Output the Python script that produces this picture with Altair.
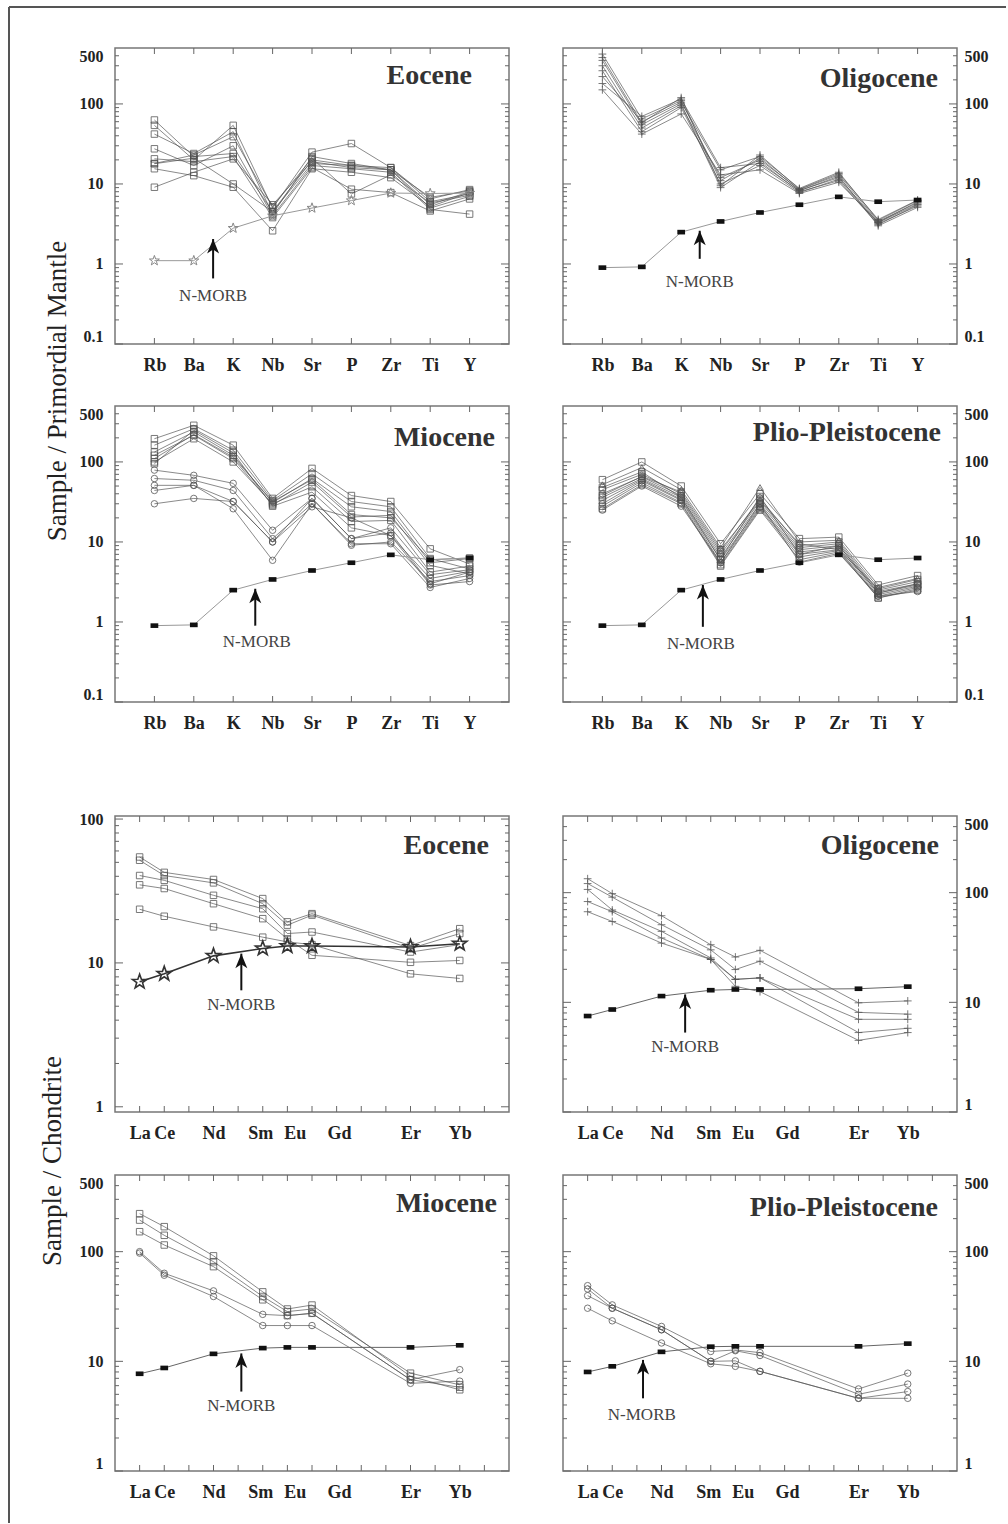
import math
import altair as alt
import pandas as pd

# ---------------- element axes ----------------
SPIDER = ["Rb", "Ba", "K", "Nb", "Sr", "P", "Zr", "Ti", "Y"]
SPIDER_SLOT = [1, 2, 3, 4, 5, 6, 7, 8, 9]
REE = ["La", "Ce", "Nd", "Sm", "Eu", "Gd", "Er", "Yb"]
REE_SLOT = [1, 2, 4, 6, 7, 8, 12, 14]
REE_LABEL_AT = [1, 2, 4, 5.9, 7.3, 9.1, 12, 14]   # where the original prints the names

# ---------------- N-MORB reference patterns ----------------
NMORB_PM = [0.9, 0.92, 2.5, 3.4, 4.4, 5.5, 6.9, 6.0, 6.3]
NMORB_PM_EOCENE = [1.1, 1.1, 2.8, 4.0, 5.0, 6.2, 7.7, 7.6, 7.7]
NMORB_CH_EOCENE = [7.4, 8.4, 11.2, 12.6, 13.1, 13.1, 12.9, 13.6]
NMORB_CH_OLIGOCENE = [7.5, 8.6, 11.4, 12.9, 13.1, 13.1, 13.3, 13.9]
NMORB_CH_MIOCENE = [7.7, 8.7, 11.7, 13.2, 13.4, 13.4, 13.4, 14.0]
NMORB_CH_PLIO = [8.0, 9.0, 12.2, 13.6, 13.7, 13.7, 13.7, 14.5]

# ---------------- primordial-mantle normalised samples ----------------
PM_EOCENE = [
    [63, 22, 24, 4.5, 20, 17, 15, 5.5, 8.0],
    [54, 20, 54, 5.0, 25, 32, 16, 6.0, 7.5],
    [42, 24, 45, 4.2, 22, 18, 15, 5.0, 7.0],
    [27.5, 17, 30, 4.0, 17, 15.5, 14, 4.8, 4.2],
    [20.6, 19, 22, 3.8, 16, 8.6, 7.8, 4.6, 6.5],
    [17.9, 21, 10, 4.5, 18, 17, 16, 6.5, 8.5],
    [15.5, 12.7, 9.1, 2.6, 15.5, 14, 12, 5.2, 7.8],
    [9.1, 14, 20.6, 5.5, 19, 16, 15, 6.8, 8.2],
    [18, 23, 39, 5.2, 21, 7.5, 13, 5.8, 7.2],
]
PM_EOCENE_MK = ["sq"] * 9

PM_OLIGOCENE = [
    [420, 65, 110, 11, 21, 8.3, 12, 3.3, 6.0],
    [350, 55, 100, 9, 19, 8.0, 11, 3.1, 5.5],
    [300, 50, 95, 12, 20, 8.5, 13, 3.4, 5.8],
    [260, 45, 90, 10, 17, 7.8, 11.5, 3.2, 5.3],
    [220, 60, 105, 15, 22, 8.8, 14, 3.5, 6.2],
    [180, 70, 115, 16, 18, 8.2, 12.5, 3.0, 5.1],
    [150, 42, 75, 13, 15, 7.6, 10.5, 3.3, 5.6],
    [380, 58, 120, 9.5, 23, 8.6, 13.5, 3.6, 6.3],
]
PM_OLIGOCENE_MK = ["cr"] * 8

PM_MIOCENE = [
    [195, 287, 162, 35, 83, 38, 32, 8.2, 5.3],
    [162, 260, 140, 33, 71, 32, 27.5, 6.2, 4.6],
    [133, 237, 121, 31, 62, 27.5, 24, 5.5, 6.2],
    [121, 216, 110, 29, 56, 20.5, 21.5, 5.1, 4.0],
    [100, 195, 100, 30, 49, 18, 18.6, 4.2, 5.0],
    [95, 250, 130, 28, 42, 15, 12, 3.5, 4.3],
    [110, 220, 115, 32, 60, 22, 20, 6.0, 6.3],
    [79, 68, 54, 14, 35, 11, 15, 3.9, 4.5],
    [62, 59, 44, 11, 30, 9.1, 10, 3.2, 3.8],
    [51, 51, 32, 10, 27.5, 20, 12, 2.9, 3.2],
    [44, 51, 26, 5.9, 30, 9.5, 9.5, 2.7, 3.5],
    [30, 35, 32, 10, 35, 11, 13, 3.0, 4.2],
]
PM_MIOCENE_MK = ["sq"] * 7 + ["ci"] * 5

PM_PLIO = [
    [60, 100, 50, 9.5, 40, 11, 11.5, 2.9, 3.8],
    [52, 85, 45, 8.5, 48, 10, 10.5, 2.7, 3.5],
    [45, 70, 40, 7.5, 35, 9, 10, 2.5, 3.2],
    [40, 65, 38, 7, 32, 8.5, 9.5, 2.4, 3.0],
    [36, 62, 36, 6.5, 30, 8, 9, 2.3, 2.9],
    [33, 60, 34, 6, 28, 7.5, 8.5, 2.2, 2.8],
    [30, 58, 33, 5.5, 27, 7, 8, 2.1, 2.7],
    [28, 55, 31, 5.2, 26, 6.5, 7.8, 2.0, 2.6],
    [26, 52, 30, 5.0, 25, 6, 7.5, 2.0, 2.5],
    [25, 50, 28, 5.5, 30, 5.6, 7.2, 2.1, 2.4],
    [38, 66, 42, 8, 33, 9.5, 8, 2.6, 3.4],
    [48, 75, 36, 6, 37, 7, 9, 2.3, 3.0],
]
PM_PLIO_MK = ["sq", "tr", "sq", "ci", "sq", "sq", "ci", "sq", "sq", "ci", "sq", "sq"]

# ---------------- chondrite normalised samples ----------------
CH_EOCENE = [
    [54.5, 42.6, 38, 28, 19.3, 22, 13.2, 17.3],
    [51.7, 40.5, 36, 25.8, 18.3, 21.5, 12.6, 16],
    [40.5, 37.5, 29.5, 23.8, 16, 16.4, 11.9, 13.4],
    [34.9, 32.9, 25.8, 20.3, 14.7, 11.3, 10.1, 10.4],
    [23.6, 21.1, 17.8, 15.1, 14.0, 13.4, 8.4, 7.8],
]
CH_EOCENE_MK = ["sq"] * 5

CH_OLIGOCENE = [
    [134, 98, 61.6, 33.5, 25.9, 29.8, 9.9, 10.3],
    [121, 91, 51, 30.1, 19.9, 23.7, 8.1, 7.8],
    [107, 69.5, 44.4, 25.4, 16.2, 16.7, 7.0, 7.0],
    [83, 67, 38.6, 24.6, 16.2, 16.7, 5.3, 5.8],
    [67, 54.6, 34.7, 24.6, 14.0, 12.5, 4.5, 5.3],
]
CH_OLIGOCENE_MK = ["cr"] * 5

CH_MIOCENE = [
    [222, 169, 91.6, 43, 30, 32.6, 7.3, 5.5],
    [194, 141, 81, 39, 28.4, 30, 7.8, 6.1],
    [152, 115, 73, 36.4, 26.1, 27.4, 6.8, 5.8],
    [100, 63.5, 43.9, 26.8, 26.1, 27.4, 6.8, 8.4],
    [97, 61, 39, 21.2, 21.2, 21.2, 6.3, 6.6],
]
CH_MIOCENE_MK = ["sq", "sq", "sq", "ci", "ci"]

CH_PLIO = [
    [49, 32.7, 20.8, 12.3, 12.7, 12.0, 5.6, 7.8],
    [45.7, 30.5, 19.4, 10, 12.5, 11.3, 5.0, 6.2],
    [39.7, 30.5, 19.4, 10, 10.1, 8.1, 4.6, 5.3],
    [30.5, 23.4, 14.7, 9.5, 9.0, 8.1, 4.6, 4.6],
]
CH_PLIO_MK = ["ci"] * 4

# ---------------- styling ----------------
SERIF = "Liberation Serif"
INK = "#222222"
LINE = "#505050"
TICK = "#666666"
W, H = 394, 296


def star_path():
    pts = []
    for k in range(10):
        r = 1.0 if k % 2 == 0 else 0.4
        ang = math.radians(-90 + 36 * k)
        pts.append("%.3f,%.3f" % (r * math.cos(ang), r * math.sin(ang)))
    return "M" + "L".join(pts) + "Z"


STAR = star_path()
SHAPES = {
    "sq": "square",
    "ci": "circle",
    "tr": "triangle-up",
    "cr": "M-1,0L1,0M0,-1L0,1",
}
RECT = "M-1,-0.6L1,-0.6L1,0.6L-1,0.6Z"
ARROW = "M0,-1L0.6,0.45L0,0.05L-0.6,0.45Z"

PM_MAJ = [0.1, 1, 10, 100]
PM_MIN = [0.2, 0.3, 0.4, 0.5, 0.6, 0.7, 0.8, 0.9, 2, 3, 4, 5, 6, 7, 8, 9,
          20, 30, 40, 50, 60, 70, 80, 90, 200, 300, 400]
CH_MAJ = [1, 10, 100]
CH_MIN = [2, 3, 4, 5, 6, 7, 8, 9, 20, 30, 40, 50, 60, 70, 80, 90, 200, 300, 400]
CH_MIN_E = [2, 3, 4, 5, 6, 7, 8, 9, 20, 30, 40, 50, 60, 70, 80, 90]

ONE = pd.DataFrame({"a": [0]})


def panel(cfg):
    kind = cfg["kind"]
    if kind == "pm":
        names, slots, lab_at, xmax = SPIDER, SPIDER_SLOT, SPIDER_SLOT, 10
    else:
        names, slots, lab_at, xmax = REE, REE_SLOT, REE_LABEL_AT, 16
    label_expr = "".join("datum.value==%s?'%s':" % (p, n) for p, n in zip(lab_at, names)) + "''"
    left = cfg["side"] == "left"

    xs = alt.Scale(domain=[0, xmax], nice=False, zero=False)
    ys = alt.Scale(type="log", domain=cfg["ydomain"], nice=False)
    xaxis = alt.Axis(values=lab_at, labelExpr=label_expr, ticks=False,
                     domain=False, grid=False, title=None, labelFont=SERIF,
                     labelFontWeight="bold", labelFontSize=18, labelColor=INK,
                     labelPadding=12, labelOverlap=False, labelFlush=False,
                     labelBound=False)
    yaxis = alt.Axis(values=cfg["ylabels"], format="~g", orient=cfg["side"],
                     ticks=False, domain=False, grid=False, title=None,
                     labelFont=SERIF, labelFontWeight="bold", labelFontSize=16,
                     labelColor=INK, labelPadding=12 if left else 7,
                     labelFlush=True, labelOverlap=False)
    X = alt.X("x:Q", scale=xs, axis=xaxis)
    Y = alt.Y("v:Q", scale=ys, axis=yaxis)

    rows = []
    for sid, (vals, mk) in enumerate(zip(cfg["samples"], cfg["markers"])):
        for s, v in zip(slots, vals):
            rows.append({"s": sid, "x": s, "v": v, "m": mk})
    df = pd.DataFrame(rows)

    layers = [alt.Chart(df).mark_line(color=LINE, strokeWidth=0.9, opacity=0.75).encode(
        x=X, y=Y, detail="s:N")]
    for mk in ["sq", "ci", "tr", "cr"]:
        sub = df[df.m == mk]
        if len(sub) == 0:
            continue
        layers.append(alt.Chart(sub).mark_point(shape=SHAPES[mk], filled=False, color=LINE,
                                                size=60 if mk == "cr" else 42,
                                                strokeWidth=0.9, opacity=0.85).encode(x=X, y=Y))

    # N-MORB reference
    ndf = pd.DataFrame({"x": slots, "v": cfg["nmorb"]})
    ns = cfg["nmorb_style"]
    layers.append(alt.Chart(ndf).mark_line(color=ns["line"], strokeWidth=ns["lw"]).encode(x=X, y=Y))
    if ns["marker"] == "star":
        layers.append(alt.Chart(ndf).mark_point(shape=STAR, filled=False, color=ns["mc"],
                                                size=ns["ms"], strokeWidth=ns["msw"],
                                                opacity=1).encode(x=X, y=Y))
    else:
        layers.append(alt.Chart(ndf).mark_point(shape=RECT, filled=True, color="#111111",
                                                size=60, opacity=1).encode(x=X, y=Y))

    # arrow + label
    a = cfg["arrow"]
    adf = pd.DataFrame({"x": [a["x"]], "v": [a["tail"]], "v2": [a["tip"]]})
    layers.append(alt.Chart(adf).mark_rule(color="#111111", strokeWidth=2).encode(
        x=X, y=Y, y2="v2:Q"))
    hdf = pd.DataFrame({"x": [a["x"]], "v": [a["tip"]]})
    layers.append(alt.Chart(hdf).mark_point(shape=ARROW, filled=True, color="#111111",
                                            size=400, yOffset=10, opacity=1).encode(x=X, y=Y))
    tdf = pd.DataFrame({"x": [a["tx"]], "v": [a["ty"]], "t": ["N-MORB"]})
    layers.append(alt.Chart(tdf).mark_text(font=SERIF, fontSize=17, color="#444444",
                                           align="center", baseline="middle").encode(
        x=X, y=Y, text="t:N"))

    # panel title
    ttl = pd.DataFrame({"t": [cfg["title"]]})
    layers.append(alt.Chart(ttl).mark_text(font=SERIF, fontSize=28, fontWeight="bold",
                                           color="#333333", align="right",
                                           baseline="middle").encode(
        text="t:N", x=alt.value(W - cfg["toff"][0]), y=alt.value(cfg["toff"][1])))

    # inward frame ticks
    nt = 9 if kind == "pm" else 15
    xt = pd.DataFrame({"x": list(range(1, nt + 1))})
    layers.append(alt.Chart(xt).mark_rule(color=TICK, strokeWidth=1).encode(
        x=X, y=alt.value(0), y2=alt.value(6)))
    layers.append(alt.Chart(xt).mark_rule(color=TICK, strokeWidth=1).encode(
        x=X, y=alt.value(H), y2=alt.value(H - 6)))
    maj = pd.DataFrame({"v": cfg["ymaj"]})
    mnr = pd.DataFrame({"v": cfg["ymin"]})
    for d, ln in [(maj, 8), (mnr, 4)]:
        layers.append(alt.Chart(d).mark_rule(color=TICK, strokeWidth=1).encode(
            y=Y, x=alt.value(0), x2=alt.value(ln)))
        layers.append(alt.Chart(d).mark_rule(color=TICK, strokeWidth=1).encode(
            y=Y, x=alt.value(W), x2=alt.value(W - ln)))

    layers.extend(cfg.get("extra", []))
    return alt.layer(*layers).properties(width=W, height=H)


def spacer(h):
    return alt.Chart(ONE).mark_point(opacity=0).encode(
        x=alt.value(0), y=alt.value(0)
    ).properties(width=1, height=h, view=alt.ViewBackground(strokeOpacity=0))


PM_NM = {"line": "#999999", "lw": 1, "marker": "rect"}
PM_NM_E = {"line": "#999999", "lw": 1, "marker": "star", "mc": "#888888", "ms": 110, "msw": 1}
CH_NM = {"line": "#666666", "lw": 1, "marker": "rect"}
CH_NM_E = {"line": "#333333", "lw": 1.6, "marker": "star", "mc": "#333333", "ms": 230, "msw": 1.6}

# frame and shared axis titles (drawn outside the first panels)
frame = [
    alt.Chart(ONE).mark_rule(color="#555555", strokeWidth=2).encode(
        x=alt.value(-106), x2=alt.value(891), y=alt.value(-41)),
    alt.Chart(ONE).mark_rule(color="#555555", strokeWidth=2).encode(
        x=alt.value(-106), y=alt.value(-41), y2=alt.value(1475)),
    alt.Chart(pd.DataFrame({"t": ["Sample / Primordial Mantle"]})).mark_text(
        angle=270, font=SERIF, fontSize=27, color=INK, align="center",
        baseline="middle").encode(text="t:N", x=alt.value(-57), y=alt.value(343)),
]
title_ch = [
    alt.Chart(pd.DataFrame({"t": ["Sample / Chondrite"]})).mark_text(
        angle=270, font=SERIF, fontSize=27, color=INK, align="center",
        baseline="middle").encode(text="t:N", x=alt.value(-62), y=alt.value(345)),
]

PM_DOM = [0.1, 500]
PM_LAB = [0.1, 1, 10, 100, 500]

p1 = panel(dict(kind="pm", side="left", ydomain=PM_DOM, ylabels=PM_LAB, ymaj=PM_MAJ, ymin=PM_MIN,
                samples=PM_EOCENE, markers=PM_EOCENE_MK, nmorb=NMORB_PM_EOCENE, nmorb_style=PM_NM_E,
                arrow=dict(x=2.49, tip=2.05, tail=0.66, tx=2.49, ty=0.4),
                title="Eocene", toff=(37, 28), extra=frame))
p2 = panel(dict(kind="pm", side="right", ydomain=PM_DOM, ylabels=PM_LAB, ymaj=PM_MAJ, ymin=PM_MIN,
                samples=PM_OLIGOCENE, markers=PM_OLIGOCENE_MK, nmorb=NMORB_PM, nmorb_style=PM_NM,
                arrow=dict(x=3.47, tip=2.6, tail=1.16, tx=3.47, ty=0.59),
                title="Oligocene", toff=(19, 31)))
p3 = panel(dict(kind="pm", side="left", ydomain=PM_DOM, ylabels=PM_LAB, ymaj=PM_MAJ, ymin=PM_MIN,
                samples=PM_MIOCENE, markers=PM_MIOCENE_MK, nmorb=NMORB_PM, nmorb_style=PM_NM,
                arrow=dict(x=3.56, tip=2.6, tail=0.9, tx=3.6, ty=0.56),
                title="Miocene", toff=(14, 32)))
p4 = panel(dict(kind="pm", side="right", ydomain=PM_DOM, ylabels=PM_LAB, ymaj=PM_MAJ, ymin=PM_MIN,
                samples=PM_PLIO, markers=PM_PLIO_MK, nmorb=NMORB_PM, nmorb_style=PM_NM,
                arrow=dict(x=3.55, tip=2.9, tail=0.87, tx=3.5, ty=0.53),
                title="Plio-Pleistocene", toff=(16, 27)))
p5 = panel(dict(kind="ch", side="left", ydomain=[0.92, 105], ylabels=[1, 10, 100], ymaj=CH_MAJ,
                ymin=CH_MIN_E, samples=CH_EOCENE, markers=CH_EOCENE_MK, nmorb=NMORB_CH_EOCENE,
                nmorb_style=CH_NM_E, arrow=dict(x=5.13, tip=11.6, tail=6.45, tx=5.13, ty=5.1),
                title="Eocene", toff=(20, 30), extra=title_ch))
p6 = panel(dict(kind="ch", side="right", ydomain=[1, 500], ylabels=[1, 10, 100, 500], ymaj=CH_MAJ,
                ymin=CH_MIN, samples=CH_OLIGOCENE, markers=CH_OLIGOCENE_MK, nmorb=NMORB_CH_OLIGOCENE,
                nmorb_style=CH_NM, arrow=dict(x=4.96, tip=11.8, tail=5.3, tx=4.96, ty=3.9),
                title="Oligocene", toff=(18, 30)))
p7 = panel(dict(kind="ch", side="left", ydomain=[1, 500], ylabels=[1, 10, 100, 500], ymaj=CH_MAJ,
                ymin=CH_MIN, samples=CH_MIOCENE, markers=CH_MIOCENE_MK, nmorb=NMORB_CH_MIOCENE,
                nmorb_style=CH_NM, arrow=dict(x=5.13, tip=11.8, tail=5.3, tx=5.13, ty=3.9),
                title="Miocene", toff=(12, 29)))
p8 = panel(dict(kind="ch", side="right", ydomain=[1, 500], ylabels=[1, 10, 100, 500], ymaj=CH_MAJ,
                ymin=CH_MIN, samples=CH_PLIO, markers=CH_PLIO_MK, nmorb=NMORB_CH_PLIO,
                nmorb_style=CH_NM, arrow=dict(x=3.25, tip=10.3, tail=4.6, tx=3.2, ty=3.27),
                title="Plio-Pleistocene", toff=(19, 33)))

chart = alt.concat(
    p1, p2,
    spacer(62), spacer(62),
    p3, p4,
    spacer(114), spacer(114),
    p5, p6,
    spacer(63), spacer(63),
    p7, p8,
    columns=2,
    spacing={"row": 0, "column": 54},
    bounds="flush",
    padding={"left": 7, "top": 5, "right": 0, "bottom": 0},
).configure_view(stroke="#777777", strokeWidth=1.5)

chart.save("out.html", embed_options={"renderer": "svg", "actions": False})
